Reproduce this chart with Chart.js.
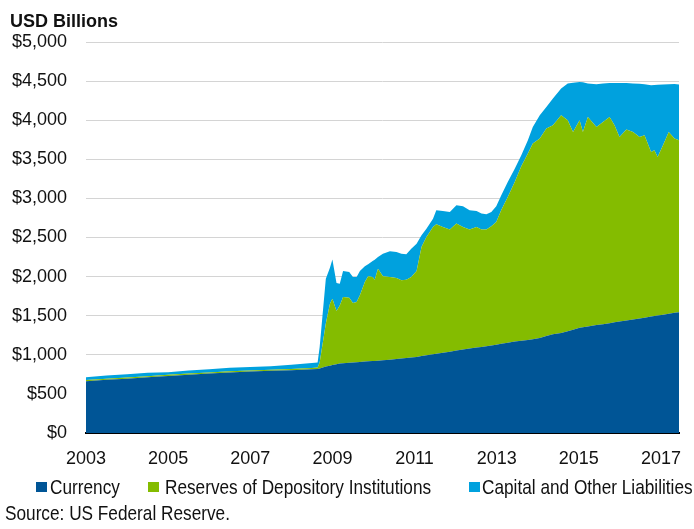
<!DOCTYPE html>
<html>
<head>
<meta charset="utf-8">
<script src="https://cdn.jsdelivr.net/npm/chart.js@4/dist/chart.umd.min.js"></script>
<style>
  html, body { margin:0; padding:0; background:#fff; }
  #wrap { position:relative; width:694px; height:529px; overflow:hidden; }
  #chart { position:absolute; left:0; top:0; }
  /* no narrow face installed, so squeeze Liberation Sans horizontally */
  .narrow { font-family:'Liberation Sans',Arial,sans-serif; font-size:21px; line-height:21px; color:#111;
            position:absolute; white-space:nowrap; transform:scaleX(0.82); transform-origin:0 0; }
  #unit { position:absolute; left:10px; top:12px; font:bold 18px/18px 'Liberation Sans',Arial,sans-serif; color:#111; }
  .swatch { position:absolute; width:11px; height:10px; }
</style>
</head>
<body>
<div id="wrap">
  <canvas id="chart" width="694" height="529"></canvas>
  <div id="unit">USD Billions</div>
  <div class="swatch" style="left:36px;top:482px;background:#005596"></div>
  <div class="narrow" style="left:50px;top:476px">Currency</div>
  <div class="swatch" style="left:148px;top:482px;background:#84BC00"></div>
  <div class="narrow" style="left:165px;top:476px">Reserves of Depository Institutions</div>
  <div class="swatch" style="left:469px;top:482px;background:#00A1DE"></div>
  <div class="narrow" style="left:482px;top:476px">Capital and Other Liabilities</div>
  <div class="narrow" style="left:5px;top:502px">Source: US Federal Reserve.</div>
</div>
<script>
// ─── Data (USD billions) ─────────────────────────────────────────────────────

const years = [
  2003.00, 2003.50, 2004.00, 2004.50, 2005.00, 2005.50, 2006.00, 2006.50,
  2007.00, 2007.50, 2008.00, 2008.50, 2008.64, 2008.69, 2008.84, 2008.94,
  2009.00, 2009.10, 2009.18, 2009.26, 2009.41, 2009.50, 2009.59, 2009.67,
  2009.79, 2009.87, 2009.98, 2010.03, 2010.11, 2010.23, 2010.40, 2010.56,
  2010.68, 2010.80, 2010.92, 2011.05, 2011.17, 2011.29, 2011.45, 2011.53,
  2011.69, 2011.86, 2012.02, 2012.18, 2012.34, 2012.51, 2012.63, 2012.75,
  2012.87, 2012.99, 2013.11, 2013.27, 2013.44, 2013.60, 2013.76, 2013.88,
  2014.05, 2014.21, 2014.37, 2014.57, 2014.73, 2014.86, 2015.02, 2015.10,
  2015.22, 2015.43, 2015.59, 2015.75, 2015.87, 2015.99, 2016.16, 2016.32,
  2016.48, 2016.60, 2016.76, 2016.84, 2016.92, 2017.05, 2017.19, 2017.33,
  2017.44
];

const currency = [
  663, 680, 695, 712, 730, 745, 760, 775,
  785, 795, 803, 815, 818, 825, 850, 860,
  870, 880, 889, 892, 898, 902, 905, 908,
  913, 916, 920, 922, 925, 930, 938, 945,
  952, 958, 965, 972, 985, 995, 1008, 1015,
  1025, 1040, 1055, 1068, 1080, 1092, 1100, 1110,
  1120, 1130, 1140, 1155, 1170, 1180, 1190, 1200,
  1215, 1240, 1262, 1280, 1300, 1320, 1345, 1352,
  1362, 1380, 1392, 1405, 1415, 1425, 1440, 1452,
  1465, 1475, 1490, 1495, 1502, 1512, 1525, 1537,
  1545
];

const reserves = [
  15, 15, 15, 15, 15, 15, 15, 15,
  15, 15, 15, 15, 20, 75, 550, 793,
  847, 679, 743, 846, 832, 759, 769, 852,
  1017, 1087, 1074, 1038, 1176, 1073, 1056, 1036,
  1000, 1002, 1029, 1099, 1393, 1511, 1626, 1654,
  1609, 1561, 1623, 1566, 1521, 1542, 1501, 1491,
  1523, 1567, 1708, 1863, 2040, 2230, 2384, 2501,
  2550, 2653, 2674, 2784, 2700, 2530, 2655, 2498,
  2680, 2534, 2586, 2637, 2521, 2361, 2440, 2398,
  2321, 2332, 2104, 2120, 2028, 2168, 2325, 2228,
  2199
];

const otherLiabilities = [
  36, 40, 40, 45, 33, 40, 40, 45,
  45, 45, 55, 65, 62, 200, 573, 460,
  503, 359, 278, 333, 328, 333, 320, 311,
  201, 154, 205, 255, 149, 290, 329, 333,
  341, 325, 363, 350, 150, 107, 107, 179,
  205, 225, 234, 265, 247, 205, 205, 196,
  183, 202, 190, 192, 170, 142, 170, 213,
  299, 277, 341, 341, 469, 630, 490, 635,
  427, 547, 492, 435, 541, 689, 597, 620,
  679, 653, 854, 835, 922, 775, 610, 697,
  712
];

const tickYears = [2003, 2005, 2007, 2009, 2011, 2013, 2015, 2017];

const seriesNames = ['Currency', 'Reserves of Depository Institutions', 'Capital and Other Liabilities'];
const seriesColors = ['#005596', '#84BC00', '#00A1DE'];

// ─── Chart ───────────────────────────────────────────────────────────────────

const TICK_FONT = { family: "'Liberation Sans',Arial,sans-serif", size: 18 };

function toPoints(values) {
  return values.map((v, i) => ({ x: years[i], y: v }));
}

const seriesValues = [currency, reserves, otherLiabilities];

new Chart(document.getElementById('chart'), {
  type: 'line',
  data: {
    datasets: seriesValues.map((vals, i) => ({
      label: seriesNames[i],
      data: toPoints(vals),
      backgroundColor: seriesColors[i],
      borderWidth: 0,
      pointRadius: 0,
      tension: 0,
      fill: i === 0 ? 'origin' : '-1',
    })),
  },
  options: {
    animation: false,
    responsive: false,
    devicePixelRatio: 1,
    layout: { padding: { top: 42, right: 15, left: 0, bottom: 0 } },
    plugins: { legend: { display: false }, tooltip: { enabled: false } },
    scales: {
      x: {
        type: 'linear',
        min: 2003,
        max: 2017.44,
        grid: { display: false, drawTicks: false },
        border: { display: true, color: '#000', width: 2 },
        afterBuildTicks: axis => { axis.ticks = tickYears.map(v => ({ value: v })); },
        afterFit: axis => {
          axis.height = 96;
          axis.paddingLeft = 0;
          axis.paddingRight = 0;
        },
        ticks: {
          padding: 15,
          maxRotation: 0,
          autoSkip: false,
          color: '#111',
          font: TICK_FONT,
          callback: v => String(v),
        },
      },
      y: {
        stacked: true,
        min: 0,
        max: 5000,
        grid: { color: '#d4d4d4', lineWidth: 1, drawTicks: false },
        border: { display: false },
        afterFit: axis => { axis.width = 86; },
        ticks: {
          stepSize: 500,
          padding: 19,
          color: '#111',
          font: TICK_FONT,
          callback: v => '$' + v.toLocaleString('en-US'),
        },
      },
    },
  },
});
</script>
</body>
</html>
